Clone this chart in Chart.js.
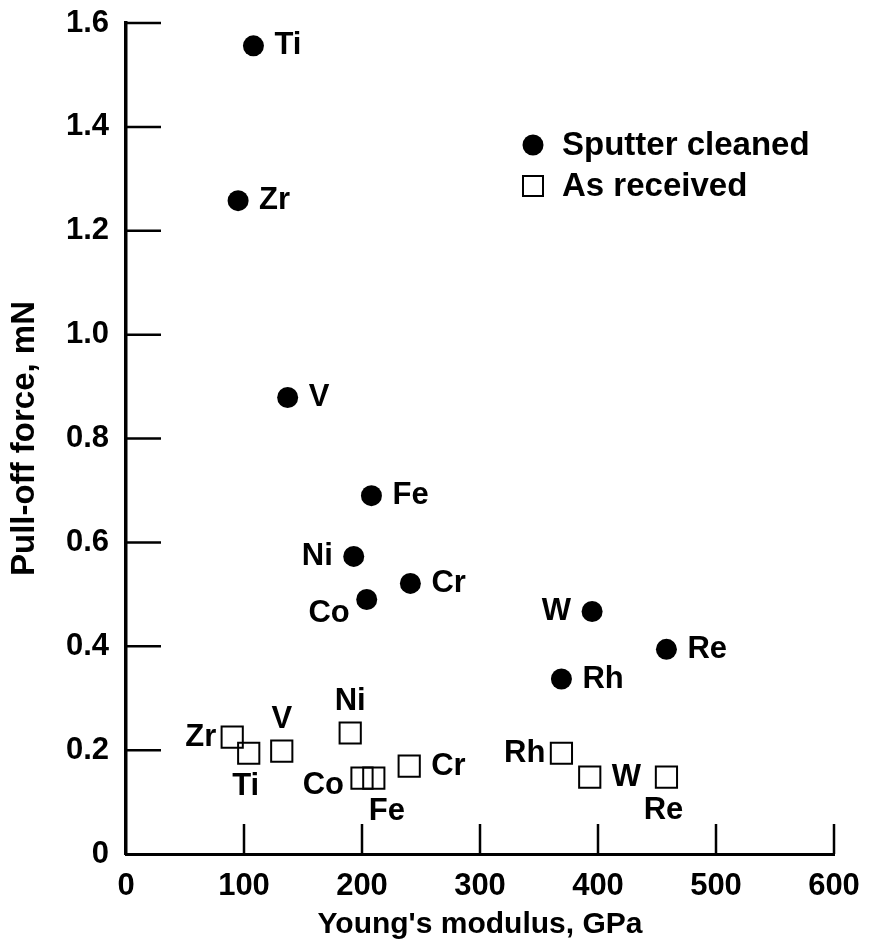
<!DOCTYPE html>
<html>
<head>
<meta charset="utf-8">
<script src="https://cdn.jsdelivr.net/npm/chart.js@4/dist/chart.umd.min.js"></script>
<style>
  body { margin: 0; background: #fff; }
  #wrap { width: 874px; height: 949px; position: relative; }
</style>
</head>
<body>
<div id="wrap"><canvas id="pulloff"></canvas></div>
<script>
// data
const sputterNames = ['Ti', 'Zr', 'V', 'Fe', 'Ni', 'Cr', 'Co', 'W', 'Re', 'Rh'];
const sputterModulus = [108, 95, 137, 208, 193, 241, 204, 395, 458, 369];
const sputterForce = [1.556, 1.258, 0.879, 0.690, 0.573, 0.521, 0.490, 0.467, 0.394, 0.337];
const sputterPlace = ['r', 'r', 'r', 'r', 'l', 'r', 'lb', 'l', 'r', 'r'];

const receivedNames = ['Zr', 'Ti', 'V', 'Ni', 'Co', 'Fe', 'Cr', 'Rh', 'W', 'Re'];
const receivedModulus = [90, 104, 132, 190, 200, 210, 240, 369, 393, 458];
const receivedForce = [0.225, 0.194, 0.198, 0.233, 0.146, 0.146, 0.169, 0.194, 0.148, 0.148];
const receivedPlace = ['l', 'b', 'a', 'a', 'lb', 'br', 'r', 'l', 'r', 'b'];

const xTicks = [0, 100, 200, 300, 400, 500, 600];
const yTicks = [0, 0.2, 0.4, 0.6, 0.8, 1.0, 1.2, 1.4, 1.6];

const FONT = '"Liberation Sans", Arial, Helvetica, sans-serif';

function toPoints(xs, ys) {
    return xs.map(function (x, i) { return { x: x, y: ys[i] }; });
}

// inward tick marks (axis ticks point into the plot)
const innerTicks = {
    id: 'innerTicks',
    beforeDatasetsDraw(chart) {
        const ctx = chart.ctx;
        const xs = chart.scales.x, ys = chart.scales.y;
        const area = chart.chartArea;
        ctx.save();
        ctx.strokeStyle = '#000';
        ctx.lineWidth = 2.5;
        ctx.beginPath();
        xTicks.forEach(function (v) {
            if (v === 0) return;
            const px = xs.getPixelForValue(v);
            ctx.moveTo(px, area.bottom);
            ctx.lineTo(px, area.bottom - 30);
        });
        yTicks.forEach(function (v) {
            if (v === 0) return;
            const py = ys.getPixelForValue(v);
            ctx.moveTo(area.left, py);
            ctx.lineTo(area.left + 35, py);
        });
        ctx.stroke();
        ctx.restore();
    }
};

// element names beside each marker
const offsets = {
    circle: { r: [21, 0, 'left'], l: [-21, 0, 'right'], lb: [-17, 14, 'right'] },
    rect: {
        r: [22, 0, 'left'], l: [-16, 0, 'right'], a: [0, -32, 'center'],
        b: [-3, 33, 'center'], lb: [-18, 7, 'right'], br: [13, 33, 'center']
    }
};
const pointLabels = {
    id: 'pointLabels',
    afterDatasetsDraw(chart) {
        const ctx = chart.ctx;
        ctx.save();
        ctx.fillStyle = '#000';
        ctx.font = 'bold 31px ' + FONT;
        ctx.textBaseline = 'middle';
        chart.data.datasets.forEach(function (ds, i) {
            const meta = chart.getDatasetMeta(i);
            const table = offsets[ds.pointStyle];
            meta.data.forEach(function (pt, j) {
                const o = table[ds.places[j]];
                ctx.textAlign = o[2];
                ctx.fillText(ds.names[j], pt.x + o[0], pt.y + o[1]);
            });
        });
        ctx.restore();
    }
};

// legend inside the plot, upper right
const boxLegend = {
    id: 'boxLegend',
    afterDraw(chart) {
        const ctx = chart.ctx;
        const lx = 533, ly = 145, gap = 41;
        ctx.save();
        ctx.fillStyle = '#000';
        ctx.strokeStyle = '#000';
        ctx.beginPath();
        ctx.arc(lx, ly, 10.5, 0, Math.PI * 2);
        ctx.fill();
        ctx.lineWidth = 2;
        ctx.strokeRect(lx - 10, ly + gap - 10, 20, 20);
        ctx.font = 'bold 33px ' + FONT;
        ctx.textBaseline = 'middle';
        ctx.textAlign = 'left';
        chart.data.datasets.forEach(function (ds, i) {
            ctx.fillText(ds.label, lx + 29, ly + i * gap + 1);
        });
        ctx.restore();
    }
};

const ctx = document.getElementById('pulloff').getContext('2d');
const chart = new Chart(ctx, {
    type: 'scatter',
    data: {
        datasets: [{
            label: 'Sputter cleaned',
            data: toPoints(sputterModulus, sputterForce),
            names: sputterNames,
            places: sputterPlace,
            pointStyle: 'circle',
            pointRadius: 10.5,
            pointHoverRadius: 10.5,
            backgroundColor: '#000',
            borderColor: '#000',
            borderWidth: 0
        }, {
            label: 'As received',
            data: toPoints(receivedModulus, receivedForce),
            names: receivedNames,
            places: receivedPlace,
            pointStyle: 'rect',
            pointRadius: 15,
            pointHoverRadius: 15,
            backgroundColor: 'rgba(0,0,0,0)',
            borderColor: '#000',
            borderWidth: 2
        }]
    },
    options: {
        responsive: true,
        maintainAspectRatio: false,
        animation: false,
        clip: false,
        layout: { padding: { top: 23, right: 40, left: 0, bottom: 0 } },
        plugins: {
            legend: { display: false },
            tooltip: { enabled: false }
        },
        scales: {
            x: {
                type: 'linear',
                min: 0,
                max: 600,
                afterFit: function (s) {
                    s.height = 95;
                    s.paddingLeft = 0;
                    s.paddingRight = 0;
                },
                afterBuildTicks: function (s) { s.ticks = xTicks.map(function (v) { return { value: v }; }); },
                grid: { display: false, drawTicks: false },
                border: { display: true, color: '#000', width: 3 },
                ticks: {
                    color: '#000',
                    padding: 14,
                    font: { family: FONT, size: 31, weight: 'bold' },
                    callback: function (v) { return String(v); }
                },
                title: {
                    display: true,
                    text: "Young's modulus, GPa",
                    color: '#000',
                    font: { family: FONT, size: 30, weight: 'bold' },
                    padding: { top: 0, bottom: 6 }
                }
            },
            y: {
                type: 'linear',
                min: 0,
                max: 1.6,
                afterFit: function (s) {
                    s.width = 126;
                    s.paddingTop = 0;
                    s.paddingBottom = 0;
                },
                afterBuildTicks: function (s) { s.ticks = yTicks.map(function (v) { return { value: v }; }); },
                grid: { display: false, drawTicks: false },
                border: { display: true, color: '#000', width: 3.5 },
                ticks: {
                    color: '#000',
                    padding: 17,
                    font: { family: FONT, size: 31, weight: 'bold' },
                    callback: function (v) { return v === 0 ? '0' : v.toFixed(1); }
                },
                title: {
                    display: true,
                    text: 'Pull-off force, mN',
                    color: '#000',
                    font: { family: FONT, size: 33, weight: 'bold' },
                    padding: { top: 5, bottom: 0 }
                }
            }
        }
    },
    plugins: [innerTicks, pointLabels, boxLegend]
});
</script>
</body>
</html>
